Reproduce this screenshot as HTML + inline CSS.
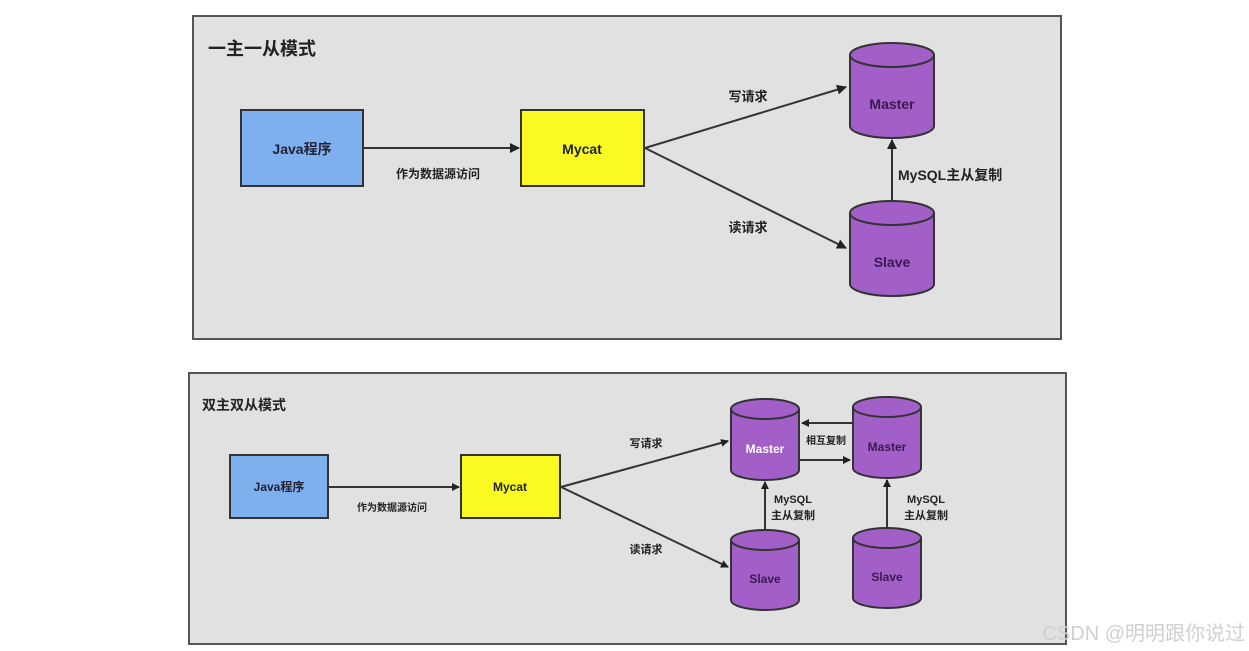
<!DOCTYPE html>
<html><head><meta charset="utf-8"><style>
html,body{margin:0;padding:0;background:#fff;}
svg{display:block;}
text{font-family:"Liberation Sans","Noto Sans CJK SC",sans-serif;font-weight:bold;}
</style></head><body>
<svg width="1249" height="651" viewBox="0 0 1249 651" xmlns="http://www.w3.org/2000/svg">
<defs>
<marker id="a" markerWidth="10" markerHeight="10" refX="9" refY="5" orient="auto" markerUnits="userSpaceOnUse"><path d="M0,0 L10,5 L0,10 z" fill="#222"/></marker>
<marker id="b" markerWidth="8" markerHeight="8" refX="7" refY="4" orient="auto" markerUnits="userSpaceOnUse"><path d="M0,0 L8,4 L0,8 z" fill="#222"/></marker>
</defs>
<!-- top panel -->
<rect x="193" y="16" width="868" height="323" fill="#e1e1e1" stroke="#555" stroke-width="2"/>
<text x="208" y="55" font-size="18" fill="#222">一主一从模式</text>
<rect x="241" y="110" width="122" height="76" fill="#7eb0f0" stroke="#333" stroke-width="2"/>
<text x="302" y="154" font-size="14" fill="#223" text-anchor="middle">Java程序</text>
<rect x="521" y="110" width="123" height="76" fill="#fafa22" stroke="#333" stroke-width="2"/>
<text x="582" y="154" font-size="14" fill="#222" text-anchor="middle">Mycat</text>
<line x1="363" y1="148" x2="519" y2="148" stroke="#333" stroke-width="2" marker-end="url(#a)"/>
<text x="438" y="178" font-size="12" fill="#222" text-anchor="middle">作为数据源访问</text>
<line x1="645" y1="148" x2="846" y2="87" stroke="#333" stroke-width="2" marker-end="url(#a)"/>
<line x1="645" y1="148" x2="846" y2="248" stroke="#333" stroke-width="2" marker-end="url(#a)"/>
<text x="748" y="101" font-size="13" fill="#222" text-anchor="middle">写请求</text>
<text x="748" y="232" font-size="13" fill="#222" text-anchor="middle">读请求</text>
<line x1="892" y1="200" x2="892" y2="140" stroke="#333" stroke-width="2" marker-end="url(#a)"/>
<text x="898" y="180" font-size="14" fill="#222">MySQL主从复制</text>
<!-- top cylinders -->
<g stroke="#333" stroke-width="2" fill="#a35fc8">
<path d="M850,55 V126 A42,12 0 0 0 934,126 V55"/><ellipse cx="892" cy="55" rx="42" ry="12"/>
<path d="M850,213 V284 A42,12 0 0 0 934,284 V213"/><ellipse cx="892" cy="213" rx="42" ry="12"/>
</g>
<text x="892" y="109" font-size="14" fill="#3a1a50" text-anchor="middle">Master</text>
<text x="892" y="267" font-size="14" fill="#3a1a50" text-anchor="middle">Slave</text>

<!-- bottom panel -->
<rect x="189" y="373" width="877" height="271" fill="#e1e1e1" stroke="#555" stroke-width="2"/>
<text x="202" y="410" font-size="14" fill="#222">双主双从模式</text>
<rect x="230" y="455" width="98" height="63" fill="#7eb0f0" stroke="#333" stroke-width="2"/>
<text x="279" y="491" font-size="12" fill="#223" text-anchor="middle">Java程序</text>
<rect x="461" y="455" width="99" height="63" fill="#fafa22" stroke="#333" stroke-width="2"/>
<text x="510" y="491" font-size="12" fill="#222" text-anchor="middle">Mycat</text>
<line x1="328" y1="487" x2="459" y2="487" stroke="#333" stroke-width="2" marker-end="url(#b)"/>
<text x="392" y="511" font-size="10" fill="#222" text-anchor="middle">作为数据源访问</text>
<line x1="561" y1="487" x2="728" y2="441" stroke="#333" stroke-width="2" marker-end="url(#b)"/>
<line x1="561" y1="487" x2="728" y2="567" stroke="#333" stroke-width="2" marker-end="url(#b)"/>
<text x="646" y="447" font-size="11" fill="#222" text-anchor="middle">写请求</text>
<text x="646" y="553" font-size="11" fill="#222" text-anchor="middle">读请求</text>
<line x1="852" y1="423" x2="802" y2="423" stroke="#333" stroke-width="2" marker-end="url(#b)"/>
<line x1="800" y1="460" x2="850" y2="460" stroke="#333" stroke-width="2" marker-end="url(#b)"/>
<text x="826" y="444" font-size="10" fill="#222" text-anchor="middle">相互复制</text>
<line x1="765" y1="530" x2="765" y2="482" stroke="#333" stroke-width="2" marker-end="url(#b)"/>
<line x1="887" y1="528" x2="887" y2="480" stroke="#333" stroke-width="2" marker-end="url(#b)"/>
<text x="793" y="503" font-size="11" fill="#222" text-anchor="middle">MySQL</text>
<text x="793" y="519" font-size="11" fill="#222" text-anchor="middle">主从复制</text>
<text x="926" y="503" font-size="11" fill="#222" text-anchor="middle">MySQL</text>
<text x="926" y="519" font-size="11" fill="#222" text-anchor="middle">主从复制</text>
<g stroke="#333" stroke-width="2" fill="#a35fc8">
<path d="M731,409 V470 A34,10 0 0 0 799,470 V409"/><ellipse cx="765" cy="409" rx="34" ry="10"/>
<path d="M853,407 V468 A34,10 0 0 0 921,468 V407"/><ellipse cx="887" cy="407" rx="34" ry="10"/>
<path d="M731,540 V600 A34,10 0 0 0 799,600 V540"/><ellipse cx="765" cy="540" rx="34" ry="10"/>
<path d="M853,538 V598 A34,10 0 0 0 921,598 V538"/><ellipse cx="887" cy="538" rx="34" ry="10"/>
</g>
<text x="765" y="453" font-size="12" fill="#fff" text-anchor="middle">Master</text>
<text x="887" y="451" font-size="12" fill="#3a1a50" text-anchor="middle">Master</text>
<text x="765" y="583" font-size="12" fill="#3a1a50" text-anchor="middle">Slave</text>
<text x="887" y="581" font-size="12" fill="#3a1a50" text-anchor="middle">Slave</text>
<text x="1245" y="640" font-size="20" fill="#d0d0d0" text-anchor="end" style="font-weight:normal">CSDN @明明跟你说过</text>
</svg>
</body></html>
